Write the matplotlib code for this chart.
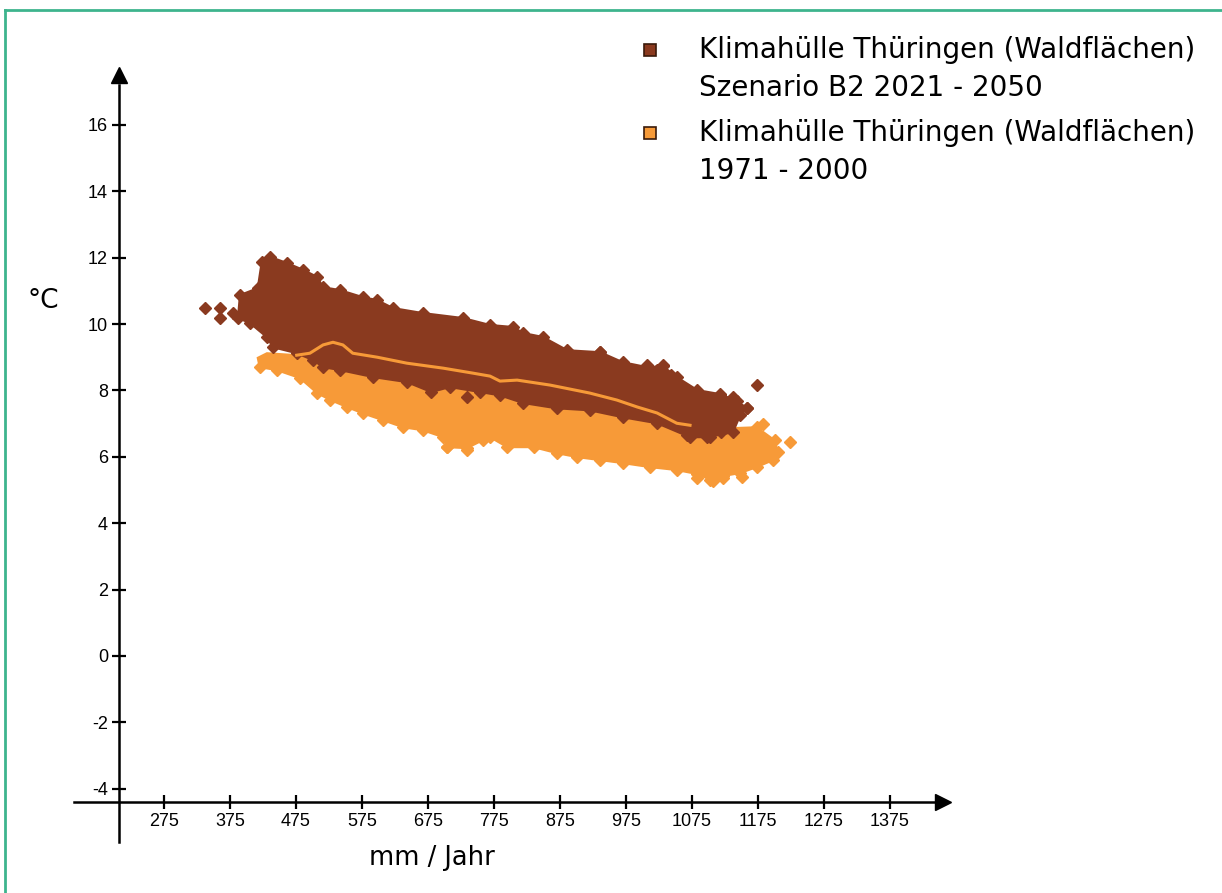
import numpy as np
import matplotlib
matplotlib.use("Agg")
import matplotlib.pyplot as plt
from matplotlib.lines import Line2D

plt.rcParams['axes.unicode_minus'] = False

# Klimahuelle 2021-2050 (Szenario B2): envelope of the point cloud, mm/Jahr vs degC
b2_x = [387, 390, 417, 423, 436, 461, 486, 507, 516, 542, 576, 598, 622, 667, 728,
        769, 804, 819, 849, 886, 936, 970, 1007, 1031, 1052, 1083, 1117, 1143, 1158,
        1148, 1137, 1098, 1072, 1022, 970, 920, 870, 819, 784, 754, 708, 680, 643,
        592, 542, 516, 501, 476, 440, 431, 405]
b2_y = [10.18, 10.87, 11.08, 11.87, 12.02, 11.84, 11.63, 11.42, 11.11, 11.02, 10.81,
        10.72, 10.48, 10.33, 10.18, 9.97, 9.91, 9.73, 9.61, 9.21, 9.15, 8.85, 8.70,
        8.73, 8.40, 8.01, 7.89, 7.68, 7.47, 7.25, 6.74, 6.59, 6.59, 7.01, 7.19, 7.40,
        7.46, 7.62, 7.85, 7.95, 8.10, 7.95, 8.25, 8.40, 8.61, 8.70, 8.91, 9.12, 9.30,
        9.60, 10.03]
# single points outside the envelope
b2_pts_x = [337, 360, 380, 360, 936, 1007, 1022, 1031, 1043, 1117, 1137,
            1158, 1173, 1067, 1102, 1119, 734]
b2_pts_y = [10.48, 10.48, 10.33, 10.18, 9.15, 8.76, 8.61, 8.76, 8.46, 7.85, 7.80,
            7.47, 8.16, 6.65, 6.59, 6.74, 7.80]

# Klimahuelle 1971-2000
ref_x = [417, 431, 476, 496, 516, 531, 546, 561, 598, 643, 698, 743, 769, 784, 810,
         860, 920, 961, 992, 1022, 1052, 1072, 1133, 1173, 1200, 1205,
         1198, 1173, 1148, 1122, 1107, 1083, 1052, 1011, 970, 936, 901, 870, 835,
         795, 769, 758, 734, 704, 698, 667, 637, 607, 576, 552, 527, 507, 481, 446,
         420]
ref_y = [8.98, 9.12, 9.06, 9.12, 9.37, 9.45, 9.37, 9.12, 9.00, 8.82, 8.67, 8.52,
         8.43, 8.28, 8.31, 8.16, 7.92, 7.71, 7.50, 7.32, 7.01, 6.95, 6.86, 6.89, 6.50,
         6.14, 5.90, 5.69, 5.51, 5.42, 5.27, 5.48, 5.60, 5.69, 5.81, 5.90, 5.99, 6.11,
         6.29, 6.29, 6.59, 6.50, 6.26, 6.29, 6.59, 6.80, 6.89, 7.10, 7.31, 7.50, 7.71,
         7.92, 8.37, 8.61, 8.70]
ref_pts_x = [1223, 734, 704, 1102, 1183, 1150, 1083, 1122]
ref_pts_y = [6.44, 6.20, 6.29, 5.30, 6.98, 5.40, 5.36, 5.36]
# upper edge of the 1971-2000 cloud (drawn over the B2 cloud)
ref_top_start, ref_top_end = 2, 22

x_ticks = np.arange(275, 1376, 100)
y_ticks = np.arange(-4, 17, 2)

brown = '#8a3a1f'
orange = '#f79a38'

fig = plt.figure(figsize=(12.22, 8.93), dpi=100)
ax = fig.add_axes([0, 0, 1, 1])
ax.set_xlim(26.5, 1878)
ax.set_ylim(-7.14, 19.76)

ax.fill(ref_x, ref_y, color=orange, lw=1.5, ec=orange, zorder=2)
ax.plot(ref_x[ref_top_end:], ref_y[ref_top_end:], 'D', color=orange, ms=6, zorder=2)
ax.plot(ref_pts_x, ref_pts_y, 'D', color=orange, ms=6, zorder=2)
ax.fill(b2_x, b2_y, color=brown, lw=1.5, ec=brown, zorder=3)
ax.plot(b2_x, b2_y, 'D', color=brown, ms=6, zorder=3)
ax.plot(b2_pts_x, b2_pts_y, 'D', color=brown, ms=6, zorder=3)
ax.plot(ref_x[ref_top_start:ref_top_end], ref_y[ref_top_start:ref_top_end],
        color=orange, lw=2.2, zorder=4)

# axes through the data, with arrow heads
for s in ['top', 'right']:
    ax.spines[s].set_visible(False)
ax.spines['left'].set_position(('data', 207))
ax.spines['left'].set_bounds(-5.6, 17.2)
ax.spines['bottom'].set_position(('data', -4.4))
ax.spines['bottom'].set_bounds(138, 1445)
for s in ['left', 'bottom']:
    ax.spines[s].set_linewidth(1.8)
    ax.spines[s].set_zorder(5)
ax.plot(207, 17.5, marker='^', color='k', ms=11, clip_on=False, zorder=6)
ax.plot(1456, -4.4, marker='>', color='k', ms=11, clip_on=False, zorder=6)

tick_font = {'family': 'Liberation Sans', 'size': 13}
ax.set_xticks(x_ticks)
ax.set_xticklabels([str(v) for v in x_ticks], fontdict=tick_font)
ax.set_yticks(y_ticks)
ax.set_yticklabels([str(v) for v in y_ticks], fontdict=tick_font)
ax.tick_params(direction='inout', length=10, width=1.6, pad=3)

ax.text(681, -6.1, 'mm / Jahr', ha='center', va='center', fontsize=18.5)
ax.text(92, 10.7, '°C', ha='center', va='center', fontsize=19)

# legend
leg_items = [(brown, ['Klimahülle Thüringen (Waldflächen)', 'Szenario B2 2021 - 2050'], 0.944),
             (orange, ['Klimahülle Thüringen (Waldflächen)', '1971 - 2000'], 0.851)]
for col, lines, yy in leg_items:
    ax.plot(0.532, yy, 's', color=col, mec='#3a1a0a', mew=1.2, ms=9,
            transform=ax.transAxes, clip_on=False)
    for i, line in enumerate(lines):
        ax.text(0.572, yy - i * 0.042, line, transform=ax.transAxes,
                ha='left', va='center', fontsize=20)

# teal frame on top and left
teal = '#3db48d'
fig.add_artist(Line2D([0.004, 1], [0.989, 0.989], color=teal, lw=2))
fig.add_artist(Line2D([0.004, 0.004], [0, 0.989], color=teal, lw=2))

fig.savefig('out.png', dpi=100)
